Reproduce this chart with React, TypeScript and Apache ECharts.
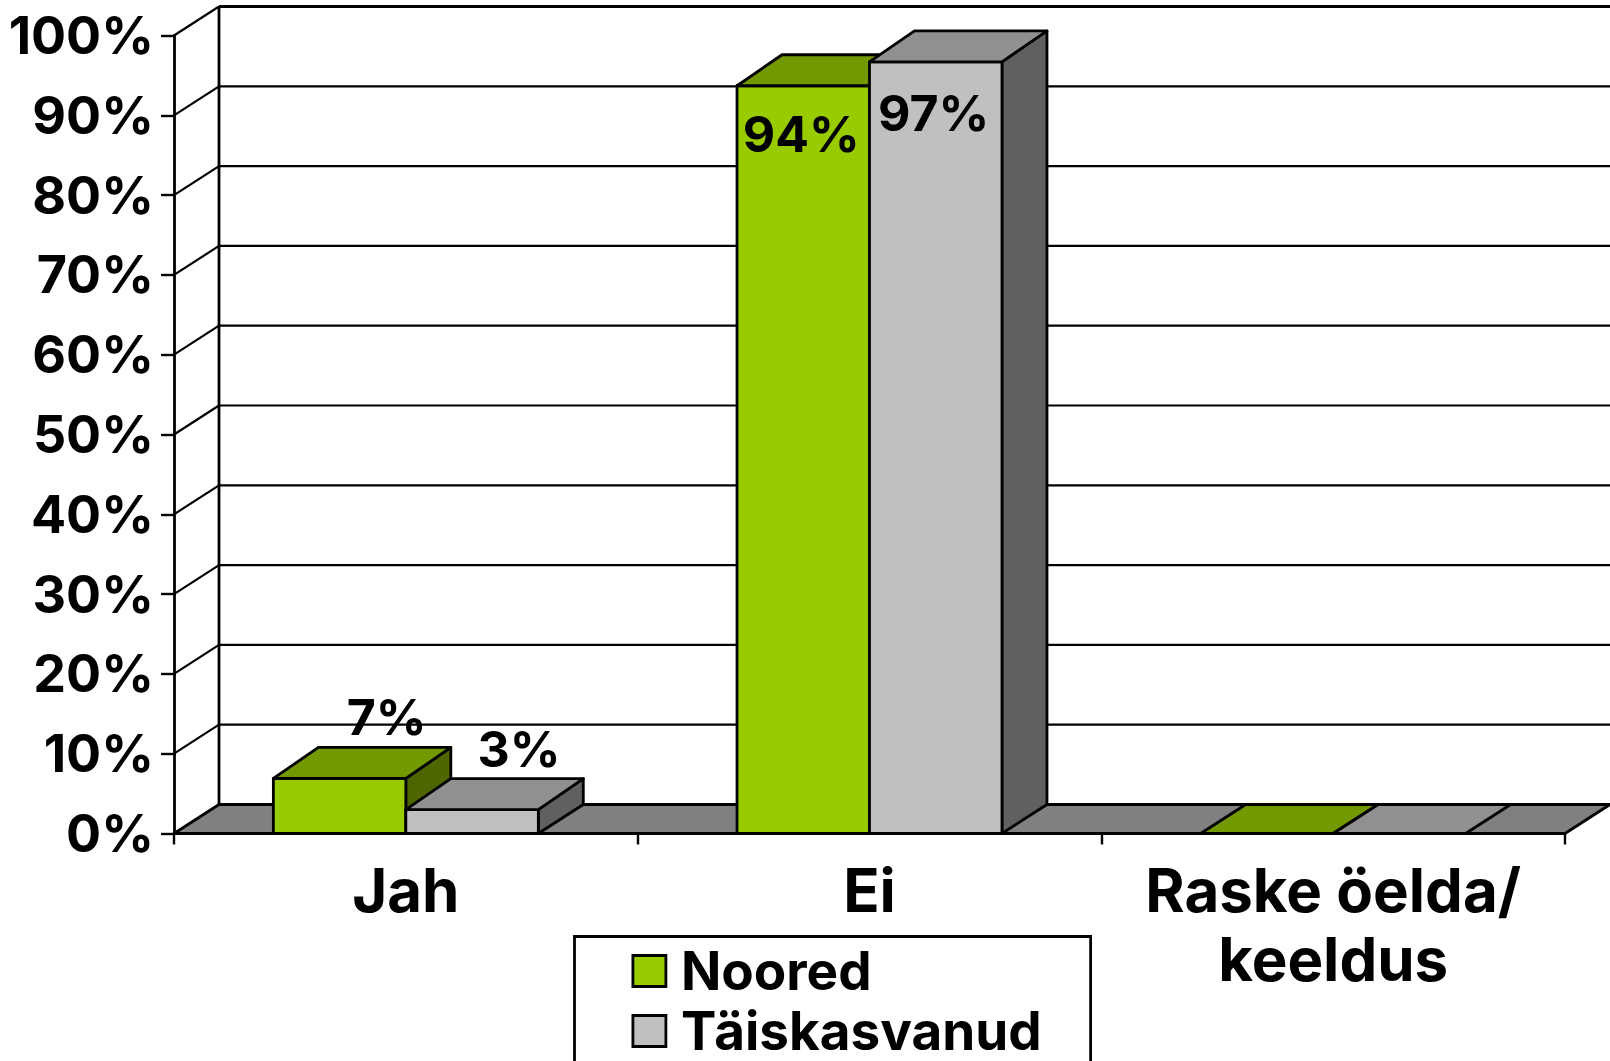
import React, { useEffect, useRef } from "react";
import * as echarts from "echarts";

const categories = ["Jah", "Ei", "Raske öelda/\nkeeldus"];
const seriesNames = ["Noored", "Täiskasvanud"];
const noored = [6.9, 93.7, 0];
const taiskasvanud = [3, 96.7, 0];
const yTicks = [0, 10, 20, 30, 40, 50, 60, 70, 80, 90, 100];

const FONT = "Inter";
const SIZE = 50;
const DX = 45;
const WALL_DY = 29;
const TOP_DY = 31;
const BAND = 0.2857;

const shades = {
  green: { front: "#99CC00", top: "#739900", side: "#4D6600" },
  gray: { front: "#C0C0C0", top: "#909090", side: "#606060" },
};

const edge = { stroke: "#000", lineWidth: 2.8, lineJoin: "round" as const };

function barRenderer(palette: { front: string; top: string; side: string }, dir: number) {
  return (_params: any, api: any) => {
    const v = api.value(1) as number;
    const base = api.coord([api.value(0), 0]);
    const head = api.coord([api.value(0), v]);
    const w = (api.size([1, 0]) as number[])[0] * BAND;
    const x0 = dir < 0 ? base[0] - w : base[0];
    const x1 = x0 + w;
    const yB = base[1];
    const yT = head[1];
    const dy = v > 0 ? TOP_DY : WALL_DY;
    const children: any[] = [];
    if (v > 0) {
      children.push({
        type: "polygon",
        shape: { points: [[x1, yB], [x1 + DX, yB - WALL_DY], [x1 + DX, yT - dy], [x1, yT]] },
        style: { fill: palette.side, ...edge },
      });
      children.push({
        type: "rect",
        shape: { x: x0, y: yT, width: w, height: yB - yT },
        style: { fill: palette.front, ...edge },
      });
    }
    children.push({
      type: "polygon",
      shape: { points: [[x0, yT], [x1, yT], [x1 + DX, yT - dy], [x0 + DX, yT - dy]] },
      style: { fill: palette.top, ...edge },
    });
    if (v > 0) {
      const tall = v > 50;
      children.push({
        type: "text",
        style: {
          text: `${Math.round(v)}%`,
          x: (x0 + x1) / 2 + (tall ? -2 : DX + 2),
          y: tall ? yT + (dir > 0 ? 51 : 48) : yT - 61,
          align: "center",
          verticalAlign: "middle",
          font: `bold ${SIZE}px ${FONT}`,
          fill: "#000",
        },
      });
    }
    return { type: "group", children };
  };
}

function wallRenderer(params: any, api: any) {
  const t = api.value(1) as number;
  const y = api.coord([0, t])[1];
  const cs = params.coordSys;
  const left = cs.x;
  const right = cs.x + cs.width;
  const children: any[] = [];
  if (t === 0) {
    children.push({
      type: "polygon",
      shape: { points: [[left, y], [right, y], [right + DX, y - WALL_DY], [left + DX, y - WALL_DY]] },
      style: { fill: "#808080", ...edge },
    });
  } else {
    children.push({
      type: "line",
      shape: { x1: left, y1: y, x2: left + DX, y2: y - WALL_DY },
      style: { stroke: "#000", lineWidth: 2.2 },
    });
    children.push({
      type: "line",
      shape: { x1: left + DX, y1: y - WALL_DY, x2: right + DX, y2: y - WALL_DY },
      style: { stroke: "#000", lineWidth: t === 100 ? 3.2 : 2.2 },
    });
  }
  if (t === 100) {
    const yBase = api.coord([0, 0])[1];
    children.push({
      type: "line",
      shape: { x1: left + DX, y1: yBase - WALL_DY, x2: left + DX, y2: y - WALL_DY },
      style: { stroke: "#000", lineWidth: 2.8 },
    });
  }
  return { type: "group", children };
}

export default function App() {
  const ref = useRef<HTMLDivElement>(null);
  useEffect(() => {
    document.body.style.margin = "0";
    document.body.style.overflow = "hidden";
    const chart = echarts.init(ref.current!, undefined, { renderer: "svg" });
    chart.setOption({
      animation: false,
      backgroundColor: "#fff",
      grid: { left: 174, top: 35.5, width: 1391, height: 798, containLabel: false },
      legend: {
        orient: "vertical",
        left: 574.5,
        top: 936.5,
        height: 300,
        padding: [8, 49, 60, 57],
        itemWidth: 33,
        itemHeight: 31,
        itemGap: 7,
        borderColor: "#000",
        borderWidth: 2.8,
        textStyle: { fontFamily: FONT, fontWeight: "bold", fontSize: 53, color: "#000", padding: [0, 0, 0, 10] },
        data: [
          { name: seriesNames[0], icon: "rect", itemStyle: { color: shades.green.front, borderColor: "#000", borderWidth: 2.8 } },
          { name: seriesNames[1], icon: "rect", itemStyle: { color: shades.gray.front, borderColor: "#000", borderWidth: 2.8 } },
        ],
      },
      xAxis: {
        type: "category",
        data: categories,
        boundaryGap: true,
        axisLine: { show: true, lineStyle: { color: "#000", width: 2.8 } },
        axisTick: { show: true, length: 11, alignWithLabel: false, lineStyle: { color: "#000", width: 2.4 } },
        axisLabel: {
          margin: 22,
          interval: 0,
          fontFamily: FONT,
          fontWeight: "bold",
          fontSize: 60,
          lineHeight: 69,
          color: "#000",
        },
      },
      yAxis: {
        type: "value",
        min: 0,
        max: 100,
        interval: 10,
        splitLine: { show: false },
        axisLine: { show: true, lineStyle: { color: "#000", width: 2.8 } },
        axisTick: { show: true, length: 13, lineStyle: { color: "#000", width: 2.4 } },
        axisLabel: {
          margin: 20,
          formatter: "{value}%",
          fontFamily: FONT,
          fontWeight: "bold",
          fontSize: 52,
          color: "#000",
        },
      },
      series: [
        {
          type: "custom",
          z: 1,
          silent: true,
          renderItem: wallRenderer,
          encode: { x: 0, y: 1 },
          data: yTicks.map((t) => [categories[0], t]),
        },
        {
          type: "custom",
          name: seriesNames[0],
          z: 2,
          renderItem: barRenderer(shades.green, -1),
          itemStyle: { color: shades.green.front },
          encode: { x: 0, y: 1 },
          data: categories.map((c, i) => [c, noored[i]]),
        },
        {
          type: "custom",
          name: seriesNames[1],
          z: 3,
          renderItem: barRenderer(shades.gray, 1),
          itemStyle: { color: shades.gray.front },
          encode: { x: 0, y: 1 },
          data: categories.map((c, i) => [c, taiskasvanud[i]]),
        },
      ],
    });
    return () => chart.dispose();
  }, []);
  return <div ref={ref} style={{ width: 1610, height: 1061 }} />;
}
